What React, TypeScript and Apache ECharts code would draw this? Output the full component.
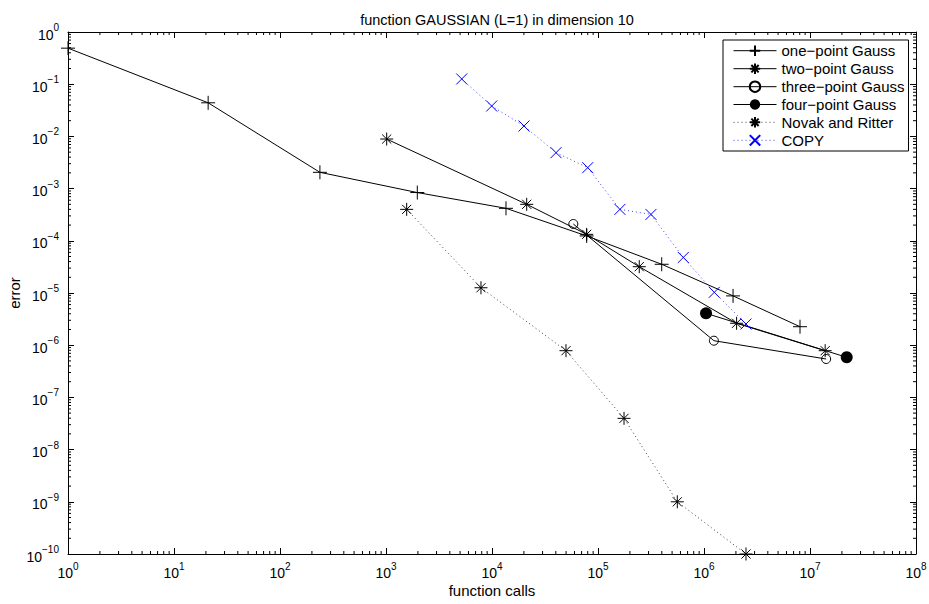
import React, { useEffect, useRef } from 'react';
import * as echarts from 'echarts';

// ---- data ----
const onePointCalls = [1, 21, 238, 1974, 13550, 78200, 399000, 1.88e6, 8.05e6];
const onePointError = [0.49, 0.044, 2.05e-3, 8.4e-4, 4.19e-4, 1.24e-4, 3.55e-5, 8.8e-6, 2.26e-6];
const twoPointCalls = [1015, 21250, 78200, 245000, 2.03e6, 1.39e7];
const twoPointError = [8.9e-3, 5.0e-4, 1.33e-4, 3.19e-5, 2.63e-6, 7.85e-7];
const threePointCalls = [58500, 1.24e6, 1.42e7];
const threePointError = [2.1e-4, 1.22e-6, 5.44e-7];
const fourPointCalls = [1.045e6, 2.22e7];
const fourPointError = [4.08e-6, 5.86e-7];
const novakCalls = [1567, 7870, 49900, 176000, 560000, 2.49e6];
const novakError = [4.0e-4, 1.26e-5, 7.85e-7, 3.97e-8, 1.0e-9, 1e-10];
const copyCalls = [5180, 9930, 20050, 40180, 80000, 161000, 316000, 638000, 1.25e6, 2.49e6];
const copyError = [0.126, 0.0382, 0.0158, 4.88e-3, 2.52e-3, 4.0e-4, 3.2e-4, 4.8e-5, 1.03e-5, 2.55e-6];

const seriesNames = [
  'one−point Gauss',
  'two−point Gauss',
  'three−point Gauss',
  'four−point Gauss',
  'Novak and Ritter',
  'COPY',
];

const xDecadeExps = [0, 1, 2, 3, 4, 5, 6, 7];
const yDecadeExps = [-10, -9, -8, -7, -6, -5, -4, -3, -2, -1];
const minorMultipliers = [2, 3, 4, 5, 6, 7, 8, 9];

const titleText = 'function GAUSSIAN (L=1) in dimension 10';
const xName = 'function calls';
const yName = 'error';

const FONT = '"Liberation Sans", Arial, Helvetica, sans-serif';

const PLUS = 'path://M0,-1L0,1M-1,0L1,0';
const STAR = 'path://M0,-1L0,1M-1,0L1,0M-0.7,-0.7L0.7,0.7M-0.7,0.7L0.7,-0.7';
const CROSS = 'path://M-1,-1L1,1M-1,1L1,-1';

const zip = (xs: number[], ys: number[]) => xs.map((x, i) => [x, ys[i]]);

const labelFmt = (v: number) => {
  const e = Math.round(Math.log10(v));
  const s = e < 0 ? '−' + String(-e) : String(e);
  return '{b|10}{s|' + s + '}';
};
const richLabel = {
  b: { fontSize: 14, fontFamily: FONT, color: '#000', verticalAlign: 'bottom', padding: [5, 0, 0, 0] },
  s: { fontSize: 10, fontFamily: FONT, color: '#000', verticalAlign: 'top' },
};

export default function App() {
  const ref = useRef<HTMLDivElement>(null);
  useEffect(() => {
    if (!ref.current) return;
    const chart = echarts.init(ref.current, undefined, { renderer: 'svg' });

    const minorX: number[][] = [];
    xDecadeExps.forEach((e) => minorMultipliers.forEach((m) => minorX.push([m * Math.pow(10, e), 1e-5])));
    const minorY: number[][] = [];
    yDecadeExps.forEach((e) => minorMultipliers.forEach((m) => minorY.push([10, m * Math.pow(10, e)])));

    const tickStyle = { stroke: '#000', lineWidth: 1 };

    const baseAxis = (extra: any) => ({
      type: 'log',
      logBase: 10,
      interval: 1,
      axisLine: { show: true, onZero: false, lineStyle: { color: '#000', width: 1 } },
      axisTick: { show: true, inside: true, length: 6, lineStyle: { color: '#000', width: 1 } },
      splitLine: { show: false },
      minorTick: { show: false },
      ...extra,
    });

    const lineSeries = (name: string, data: number[][], symbol: string, size: number, color: string, dotted: boolean, itemStyle: any) => ({
      name,
      type: 'line',
      data,
      symbol,
      symbolSize: size,
      showSymbol: true,
      clip: false,
      silent: true,
      z: 3,
      lineStyle: { color, width: 1, type: dotted ? [1, 3] : 'solid', opacity: dotted ? 0.75 : 1 },
      itemStyle,
      emphasis: { disabled: true },
    });

    chart.setOption({
      animation: false,
      backgroundColor: '#fff',
      title: {
        text: titleText,
        left: 492,
        top: 7,
        textAlign: 'center',
        textStyle: { fontSize: 14.5, fontWeight: 'normal', fontFamily: FONT, color: '#000' },
      },
      grid: { left: 68, top: 32, right: 13, bottom: 50, containLabel: false, outerBoundsMode: 'none' },
      legend: {
        orient: 'vertical',
        left: 723,
        top: 40,
        data: seriesNames,
        itemWidth: 43,
        itemHeight: 13,
        itemGap: 2.6,
        padding: [3, 4, 3, 10],
        borderColor: '#000',
        borderWidth: 1,
        backgroundColor: '#fff',
        selectedMode: false,
        lineStyle: { width: 1 },
        textStyle: { fontSize: 15, fontFamily: FONT, color: '#000' },
        z: 10,
      },
      xAxis: [
        baseAxis({
          position: 'bottom',
          min: 1,
          max: 1e8,
          name: xName,
          nameLocation: 'middle',
          nameGap: 29,
          nameMoveOverlap: false,
          nameTextStyle: { fontSize: 15, fontFamily: FONT, color: '#000' },
          axisLabel: { show: true, margin: 7, formatter: labelFmt, rich: richLabel },
        }),
        baseAxis({ position: 'top', min: 1, max: 1e8, axisLabel: { show: false } }),
      ],
      yAxis: [
        baseAxis({
          position: 'left',
          min: 1e-10,
          max: 1,
          name: yName,
          nameLocation: 'middle',
          nameGap: 46,
          nameMoveOverlap: false,
          nameRotate: 90,
          nameTextStyle: { fontSize: 15, fontFamily: FONT, color: '#000' },
          axisLabel: { show: true, margin: 9, formatter: labelFmt, rich: richLabel },
        }),
        baseAxis({ position: 'right', min: 1e-10, max: 1, axisLabel: { show: false } }),
      ],
      series: [
        {
          type: 'custom',
          silent: true,
          clip: false,
          xAxisIndex: 0,
          yAxisIndex: 0,
          data: minorX,
          renderItem: (params: any, api: any) => {
            const p = api.coord([api.value(0), api.value(1)]);
            const cs = params.coordSys;
            return {
              type: 'group',
              children: [
                { type: 'line', shape: { x1: p[0], y1: cs.y + cs.height, x2: p[0], y2: cs.y + cs.height - 3 }, style: tickStyle },
                { type: 'line', shape: { x1: p[0], y1: cs.y, x2: p[0], y2: cs.y + 3 }, style: tickStyle },
              ],
            };
          },
        },
        {
          type: 'custom',
          silent: true,
          clip: false,
          xAxisIndex: 0,
          yAxisIndex: 0,
          data: minorY,
          renderItem: (params: any, api: any) => {
            const p = api.coord([api.value(0), api.value(1)]);
            const cs = params.coordSys;
            return {
              type: 'group',
              children: [
                { type: 'line', shape: { x1: cs.x, y1: p[1], x2: cs.x + 3, y2: p[1] }, style: tickStyle },
                { type: 'line', shape: { x1: cs.x + cs.width, y1: p[1], x2: cs.x + cs.width - 3, y2: p[1] }, style: tickStyle },
              ],
            };
          },
        },
        lineSeries(seriesNames[0], zip(onePointCalls, onePointError), PLUS, 14, '#000', false,
          { color: 'none', borderColor: '#000', borderWidth: 1 }),
        lineSeries(seriesNames[1], zip(twoPointCalls, twoPointError), STAR, 13, '#000', false,
          { color: 'none', borderColor: '#000', borderWidth: 1 }),
        lineSeries(seriesNames[2], zip(threePointCalls, threePointError), 'circle', 9, '#000', false,
          { color: 'none', borderColor: '#000', borderWidth: 1 }),
        lineSeries(seriesNames[3], zip(fourPointCalls, fourPointError), 'circle', 12, '#000', false,
          { color: '#000', borderColor: '#000', borderWidth: 0 }),
        lineSeries(seriesNames[4], zip(novakCalls, novakError), STAR, 13, '#000', true,
          { color: 'none', borderColor: '#000', borderWidth: 1 }),
        lineSeries(seriesNames[5], zip(copyCalls, copyError), CROSS, 11, '#0000ff', true,
          { color: 'none', borderColor: '#0000ff', borderWidth: 1 }),
      ],
    });
    return () => chart.dispose();
  }, []);
  return <div ref={ref} style={{ position: 'absolute', left: 0, top: 0, width: 929, height: 604 }} />;
}
